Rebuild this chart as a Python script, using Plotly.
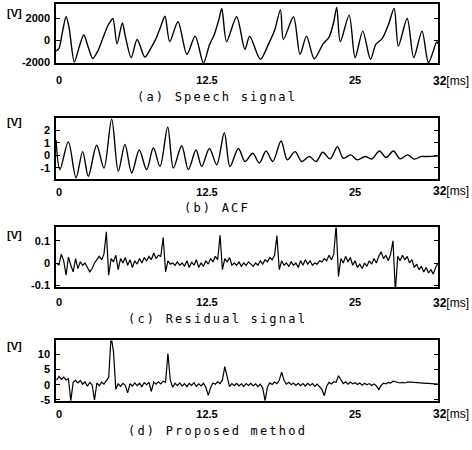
import plotly.graph_objects as go

W, H = 472, 450

# ---------------- data ----------------
# (a) Speech signal: time [ms], amplitude
A_T = [-0.25, 0.0, 0.3, 0.6, 0.85, 1.3, 1.7, 2.1, 2.5, 2.85, 3.3, 3.7, 4.1, 4.3, 4.55,
       4.9, 5.35, 5.6, 6.1, 6.6, 7.25, 7.7, 8.2, 8.6, 8.95, 9.35, 10.05, 10.8, 11.5,
       12.2, 12.7, 13.1, 13.5, 13.75, 14.15, 15.0, 15.7, 16.1, 17.0, 17.7, 18.2, 18.7,
       18.95, 19.8, 20.35, 20.9, 21.55, 22.3, 22.8, 23.2, 23.45, 23.75, 24.5, 25.0,
       25.65, 26.3, 26.75, 27.3, 27.8, 28.3, 28.65, 29.4, 29.95, 30.65, 31.2, 31.9, 32.0]
A_V = [-950, -700, 800, 2150, 1200, -1950, -600, 500, -700, -1620, -900, 200, 1300, 1650, 2000,
       -300, 1600, 400, -1550, 100, -1500, -800, 200, 1300, 2200, -100, 1700, -1250, 400,
       -2050, -400, 500, 1900, 2900, -100, 2150, -800, 400, -1700, -300, 900, 2800,
       100, 2150, -1250, 400, -1650, -300, 300, 1700, 3000, -100, 2300, -1550,
       850, -1700, -350, 200, 1400, 2900, -500, 2000, -1550, 850, -2000, -100, -300]

# (b) ACF
B_T = [-0.25, 0.08, 0.79, 1.44, 2.0, 2.48, 3.18, 3.80, 4.45, 5.01, 5.57, 6.14, 6.78, 7.40,
       7.97, 8.53, 9.18, 9.66, 10.36, 10.92, 11.57, 12.05, 12.70, 13.32, 13.96, 14.44,
       15.15, 15.71, 16.36, 16.92, 17.48, 18.05, 18.75, 19.28, 19.93, 20.5, 21.14, 21.71,
       22.27, 22.89, 23.51, 24.01, 24.63, 25.2, 25.84, 26.41, 27.06, 27.62, 28.24, 28.8,
       29.42, 30.01, 30.57, 31.05, 32.0]
B_V = [1.25, -1.15, 1.08, -1.8, 0.29, -1.68, 0.81, -1.02, 2.9, -1.29, 0.87, -1.42, 0.42, -1.15,
       0.6, -0.9, 2.26, -1.02, 0.76, -1.15, 0.42, -0.9, 0.55, -0.76, 1.81, -0.9,
       0.55, -0.5, 0.16, -0.63, 0.34, -0.5, 1.15, -0.37, 0.29, -0.5, -0.1, -0.5,
       0.24, -0.29, 0.68, -0.24, 0.03, -0.37, -0.1, -0.29, 0.34, -0.18, 0.34, -0.29,
       0.03, -0.31, -0.1, -0.1, -0.05]

# (c) Residual signal, sampled every 0.2 ms starting at -0.2 ms
C_T0, C_DT = -0.2, 0.2
C_V = [0.0, -0.01, 0.04, 0.01, -0.055, 0.027, -0.01, -0.04, 0.02, -0.025,
       0.005, -0.01, 0.0, -0.02, -0.04, -0.025, 0.0, 0.015, 0.03, 0.015,
       0.04, 0.14, -0.055, 0.02, 0.005, 0.035, -0.03, 0.02, 0.0, 0.025,
       -0.01, 0.015, -0.02, 0.01, -0.005, 0.02, 0.0, 0.025, 0.01, 0.03,
       0.015, 0.045, 0.02, 0.035, 0.03, 0.115, -0.04, 0.01, -0.005, 0.0,
       -0.01, 0.005, -0.01, 0.0, -0.015, 0.01, -0.02, 0.005, -0.01, 0.015,
       -0.02, 0.0, -0.015, 0.01, -0.005, 0.02, 0.005, 0.03, 0.015, 0.125,
       -0.03, 0.02, 0.005, 0.025, -0.01, 0.0, -0.01, 0.005, -0.015, 0.0,
       -0.01, 0.005, -0.005, -0.015, 0.0, -0.01, 0.01, -0.005, 0.015, 0.005,
       0.025, 0.015, 0.035, 0.123, -0.03, 0.01, -0.01, 0.0, -0.015, 0.005,
       -0.01, 0.0, -0.02, 0.01, -0.01, 0.015, -0.005, 0.01, -0.01, 0.0,
       -0.005, 0.01, 0.005, 0.02, 0.01, 0.035, 0.015, 0.04, 0.17, -0.06,
       0.02, 0.0, 0.03, 0.005, 0.025, -0.01, 0.01, -0.02, -0.005, -0.025,
       0.0, -0.015, 0.01, -0.005, 0.02, 0.0, 0.03, 0.05, 0.02, 0.035,
       0.01, 0.04, 0.1, -0.13, 0.03, 0.01, 0.035, 0.015, 0.03, 0.0,
       0.015, -0.02, -0.005, -0.03, -0.015, -0.04, -0.02, -0.045, -0.03, -0.05,
       -0.02, 0.0]

# (d) Proposed method, sampled every 0.2 ms starting at -0.2 ms
D_T0, D_DT = -0.2, 0.2
D_V = [1.5, 2.8, 1.8, 2.5, 1.6, 2.0, -5.2, 0.8, 1.5, 0.6,
       1.4, 0.2, 1.0, -0.5, 0.8, 0.0, -5.0, 0.6, -0.3, 0.9,
       0.2, 1.4, 2.5, 16, 11, -1.5, 0.3, -0.5, 0.5, -0.2,
       -2.6, 0.4, -0.4, 0.6, -0.3, 0.5, -0.6, 0.7, 0.0, 0.8,
       -2.2, 0.9, 0.2, 1.0, 0.3, 1.2, 0.8, 10.3, 1.5, -0.8,
       0.5, -0.3, 0.6, -0.4, 0.4, -0.6, 0.5, -0.2, 0.7, -0.5,
       0.3, -0.4, 0.5, -0.8, -3.5, -1.0, 0.6, 0.2, 1.0, 0.4,
       1.6, 6.0, 2.5, -0.6, 0.4, -0.3, 0.5, -0.4, 0.3, -0.5,
       0.4, -0.2, 0.5, -0.4, 0.3, -0.6, 0.2, -1.0, -5.2, -0.8,
       0.6, 0.1, 0.9, 0.4, 1.5, 4.2, 1.5, 0.2, 0.8, 0.0,
       0.6, -0.2, 0.5, -0.3, 0.4, -0.4, 0.5, -0.2, 0.4, -0.5,
       0.2, -0.6, -1.5, -3.6, -0.5, 0.8, 0.3, 1.0, 0.8, 3.0,
       1.6, 0.4, 1.0, 0.2, 0.9, 0.3, 0.7, 0.1, 0.6, -0.1,
       0.5, 0.0, 0.4, -0.2, 0.3, -0.4, -1.6, -0.2, 0.5, 0.3,
       0.8, 0.6, 1.2, 1.0, 0.8, 0.6, 0.8, 0.6, 0.9, 1.0,
       0.9, 0.8, 0.7, 0.6, 0.6, 0.5, 0.5, 0.5, 0.4, 0.4,
       0.3, 0.2]

X_TICKS = [0, 12.5, 25]
X_LABELS = ["0", "12.5", "25"]
X_END_LABEL = "<b>32</b>[ms]"
Y_TICKS = [[2000, 0, -2000], [2, 1, 0, -1], [0.1, 0, -0.1], [10, 5, 0, -5]]
Y_LABELS = [["2000", "0", "-2000"], ["2", "1", "0", "-1"], ["0.1", "0", "-0.1"],
            ["10", "5", "0", "-5"]]
Y_RANGES = [[-2060, 3270], [-1.88, 3.02], [-0.11, 0.16], [-5.4, 14.6]]
CAPTIONS = ["(a) Speech signal", "(b) ACF", "(c) Residual signal", "(d) Proposed method"]

# ---------------- layout geometry (pixels) ----------------
PLOT_L, PLOT_R = 56, 438
PANELS = [(4.5, 64), (119, 180.7), (230, 290.7), (344.3, 405.7)]   # top, bottom
XLAB_Y = [80, 192, 305, 417]
CAP_Y = [98, 210, 323, 436]
V_Y = [13, 123, 238, 350]
STANDOFF = [6, 2, 4, 2]


def px(x):
    return x / W


def py(y):
    return 1 - y / H


fig = go.Figure()
line = dict(color="black", width=1.4)
fig.add_trace(go.Scatter(x=A_T, y=A_V, mode="lines", xaxis="x", yaxis="y",
                         line=dict(line, shape="spline", smoothing=0.8)))
fig.add_trace(go.Scatter(x=B_T, y=B_V, mode="lines", xaxis="x2", yaxis="y2",
                         line=dict(line, shape="spline", smoothing=0.9)))
fig.add_trace(go.Scatter(x0=C_T0, dx=C_DT, y=C_V, mode="lines", xaxis="x3", yaxis="y3",
                         line=dict(color="black", width=1.2)))
fig.add_trace(go.Scatter(x0=D_T0, dx=D_DT, y=D_V, mode="lines", xaxis="x4", yaxis="y4",
                         line=dict(color="black", width=1.2)))

tickfont = dict(family="Liberation Sans", size=11, color="black", weight="bold")
layout = dict(width=W, height=H, margin=dict(l=0, r=0, t=0, b=0),
              paper_bgcolor="white", plot_bgcolor="white", showlegend=False,
              font=dict(family="Liberation Sans", color="black"))
annotations = []
for i in range(4):
    sfx = "" if i == 0 else str(i + 1)
    top, bot = PANELS[i]
    layout["xaxis" + sfx] = dict(
        domain=[px(PLOT_L), px(PLOT_R)], anchor="y" + sfx, range=[-0.25, 32],
        tickvals=X_TICKS, ticktext=X_LABELS, ticks="", showgrid=False, zeroline=False,
        showline=True, mirror=True, linecolor="black", linewidth=1.5,
        tickfont=tickfont, ticklabelstandoff=STANDOFF[i], fixedrange=True)
    layout["yaxis" + sfx] = dict(
        domain=[py(bot), py(top)], anchor="x" + sfx, range=Y_RANGES[i],
        tickvals=Y_TICKS[i], ticktext=Y_LABELS[i], ticks="inside", ticklen=4,
        tickcolor="black", tickwidth=1.2, showgrid=False, zeroline=False,
        showline=True, mirror="ticks", linecolor="black", linewidth=1.5,
        tickfont=tickfont, ticklabelstandoff=2, fixedrange=True)
    annotations.append(dict(text="[V]", x=px(14), y=py(V_Y[i]), xref="paper", yref="paper",
                            showarrow=False, xanchor="center", yanchor="middle",
                            font=dict(family="Liberation Sans", size=11, weight="bold")))
    annotations.append(dict(text=X_END_LABEL, x=px(431), y=py(XLAB_Y[i] + 1.5), xref="paper",
                            yref="paper", showarrow=False, xanchor="left", yanchor="middle",
                            font=dict(family="Liberation Sans", size=12)))
    annotations.append(dict(text='<span style="letter-spacing:2.2px">' + CAPTIONS[i] + "</span>",
                            x=px(217), y=py(CAP_Y[i]), xref="paper", yref="paper",
                            showarrow=False, xanchor="center", yanchor="middle",
                            font=dict(family="DejaVu Sans Mono", size=12)))
layout["annotations"] = annotations
fig.update_layout(**layout)
fig.write_html("out.html")
